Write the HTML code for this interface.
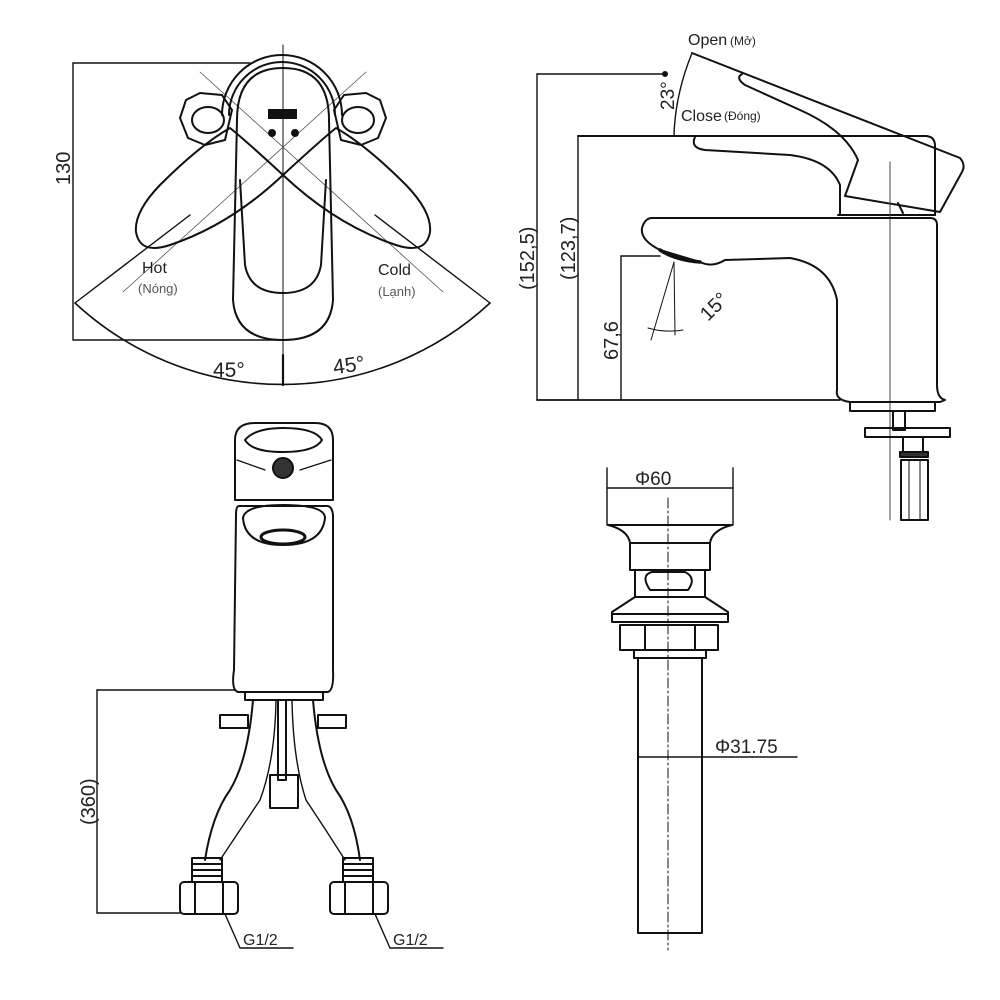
<!DOCTYPE html>
<html><head><meta charset="utf-8"><style>
html,body{margin:0;padding:0;background:#fff;}
svg{display:block;}
text{font-family:"Liberation Sans",sans-serif;fill:#222;}
</style></head><body>
<svg width="1000" height="1000" viewBox="0 0 1000 1000" xmlns="http://www.w3.org/2000/svg">
<g fill="none" stroke="#111" stroke-width="2" stroke-linejoin="round" stroke-linecap="round">
<line x1="283" y1="45" x2="283" y2="385" stroke-width="1"/>
<line x1="73" y1="63" x2="73" y2="340" stroke-width="1.4"/>
<line x1="73" y1="63" x2="250" y2="63" stroke-width="1.4"/>
<line x1="73" y1="340" x2="285" y2="340" stroke-width="1.4"/>
<path d="M75 303 A305 305 0 0 0 490 303" stroke-width="1.6"/>
<line x1="75" y1="303" x2="190" y2="215" stroke-width="1.4"/>
<line x1="490" y1="303" x2="375" y2="215" stroke-width="1.4"/>
<line x1="283" y1="355" x2="283" y2="385" stroke-width="2.2"/>
<line x1="200" y1="72" x2="443" y2="292" stroke-width="0.8" stroke="#555"/>
<line x1="366" y1="72" x2="123" y2="292" stroke-width="0.8" stroke="#555"/>
<path d="M222 115 A60 60 0 0 1 342 115"/>
<path d="M229 115 A53 53 0 0 1 335 115"/>
<path d="M186 100 L200 93 L222 95 L232 110 L225 140 L205 145 L188 138 L180 118 Z"/>
<ellipse cx="208" cy="120" rx="16" ry="13"/>
<path d="M380 100 L366 93 L344 95 L334 110 L341 140 L361 145 L378 138 L386 118 Z"/>
<ellipse cx="358" cy="120" rx="16" ry="13"/>
<path d="M230 128 Q245 140 283 175 Q230 225 170 245 Q140 255 136 232 Q134 212 160 185 Q200 145 230 128 Z"/>
<path d="M336 128 Q321 140 283 175 Q336 225 396 245 Q426 255 430 232 Q432 212 406 185 Q366 145 336 128 Z"/>
<path d="M237 120 Q237 68 283 68 Q329 68 329 120 L333 300 Q330 340 283 340 Q236 340 233 300 Z"/>
<path d="M240 180 L245 265 Q250 293 283 293 Q316 293 321 265 L326 180"/>
<rect x="268" y="109" width="29" height="10" fill="#111" stroke="none"/>
<circle cx="272" cy="133" r="3" fill="#111"/>
<circle cx="295" cy="133" r="3" fill="#111"/>

<line x1="537" y1="74" x2="537" y2="400" stroke-width="1.4"/>
<line x1="537" y1="74" x2="665" y2="74" stroke-width="1.4"/>
<line x1="578" y1="136" x2="578" y2="400" stroke-width="1.4"/>
<line x1="621" y1="256" x2="621" y2="400" stroke-width="1.4"/>
<line x1="621" y1="256" x2="660" y2="256" stroke-width="1.4"/>
<line x1="537" y1="400" x2="840" y2="400" stroke-width="1.8"/>
<path d="M692 53 Q675 95 674 136" stroke-width="1.4"/>
<circle cx="665" cy="74" r="2" fill="#111"/>
<path d="M578 136 L925 136 Q935 136 935 146 L935 215"/>
<line x1="838" y1="215" x2="935" y2="215"/>
<path d="M692 53 L960 158 Q966 165 962 172 L940 212 L845 196 L858 160 Q845 130 800 110 L745 85 Q735 78 742 74"/>
<line x1="898" y1="203" x2="903" y2="213"/>
<path d="M695 137 Q690 148 705 150 L790 155 Q830 160 840 185 L840 215"/>
<line x1="890" y1="162" x2="890" y2="520" stroke-width="1" stroke="#444"/>
<path d="M652 218 L930 218 Q937 218 937 225 L937 385 Q937 398 945 400 L940 402 L850 402 Q835 400 837 390 L837 300 Q830 265 790 258 L725 260 Q712 268 700 262 L660 250 Q640 240 642 228 Q645 218 652 218 Z"/>
<path d="M660 250 Q675 260 700 262" stroke-width="3.5"/>
<line x1="674" y1="262" x2="675" y2="335" stroke-width="1"/>
<line x1="674" y1="262" x2="651" y2="340" stroke-width="1"/>
<path d="M648 328 Q665 333 683 330" stroke-width="1"/>
<rect x="850" y="402" width="85" height="9"/>
<rect x="893" y="411" width="12" height="19"/>
<rect x="865" y="428" width="85" height="9"/>
<rect x="903" y="437" width="20" height="15"/>
<rect x="900" y="452" width="28" height="5" fill="#333"/>
<rect x="901" y="460" width="27" height="60"/>
<line x1="909" y1="460" x2="909" y2="520" stroke-width="1"/>
<line x1="920" y1="460" x2="920" y2="520" stroke-width="1"/>

<path d="M235 500 L235 440 Q235 423 255 423 L315 423 Q333 423 333 440 L333 500 Z"/>
<path d="M245 440 Q255 428 283 428 Q315 428 322 440 Q315 452 283 452 Q252 452 245 440 Z"/>
<line x1="237" y1="460" x2="265" y2="470" stroke-width="1.2"/>
<line x1="331" y1="460" x2="300" y2="470" stroke-width="1.2"/>
<circle cx="283" cy="468" r="10" fill="#333"/>
<line x1="238" y1="500" x2="331" y2="500"/>
<path d="M239 506 L327 506 Q332 506 333 515 L333 670 Q334 690 328 692 L238 692 Q231 690 234 670 L236 515 Q236 506 239 506 Z"/>
<path d="M243 518 Q245 505 283 505 Q325 505 325 518 Q322 545 283 545 Q245 545 243 518 Z"/>
<ellipse cx="283" cy="537" rx="22" ry="7" stroke-width="3"/>
<rect x="245" y="692" width="78" height="8"/>
<line x1="97" y1="690" x2="235" y2="690" stroke-width="1.4"/>
<line x1="97" y1="690" x2="97" y2="913" stroke-width="1.4"/>
<line x1="97" y1="913" x2="180" y2="913" stroke-width="1.4"/>
<rect x="220" y="715" width="28" height="13"/>
<rect x="318" y="715" width="28" height="13"/>
<path d="M253 700 Q248 760 230 790 Q212 815 205 860"/>
<path d="M313 700 Q318 760 336 790 Q354 815 360 860"/>
<path d="M276 700 Q275 760 260 800 Q240 830 220 860" stroke-width="1.4"/>
<path d="M292 700 Q293 760 306 800 Q326 830 345 860" stroke-width="1.4"/>
<rect x="278" y="700" width="8" height="80"/>
<rect x="270" y="775" width="28" height="33"/>
<rect x="192" y="858" width="30" height="24"/>
<line x1="192" y1="864" x2="222" y2="864"/><line x1="192" y1="870" x2="222" y2="870"/><line x1="192" y1="876" x2="222" y2="876"/>
<rect x="180" y="882" width="58" height="32" rx="4"/>
<line x1="195" y1="882" x2="195" y2="914"/><line x1="223" y1="882" x2="223" y2="914"/>
<rect x="343" y="858" width="30" height="24"/>
<line x1="343" y1="864" x2="373" y2="864"/><line x1="343" y1="870" x2="373" y2="870"/><line x1="343" y1="876" x2="373" y2="876"/>
<rect x="330" y="882" width="58" height="32" rx="4"/>
<line x1="345" y1="882" x2="345" y2="914"/><line x1="373" y1="882" x2="373" y2="914"/>
<polyline points="225,914 240,948 293,948" stroke-width="1.4"/>
<polyline points="375,914 390,948 443,948" stroke-width="1.4"/>

<line x1="607" y1="468" x2="607" y2="525" stroke-width="1.4"/>
<line x1="733" y1="468" x2="733" y2="525" stroke-width="1.4"/>
<line x1="607" y1="488" x2="733" y2="488" stroke-width="1.4"/>
<line x1="668" y1="498" x2="668" y2="950" stroke-width="1" stroke-dasharray="10 3 2 3"/>
<path d="M608 525 L732 525 Q712 530 710 543 L630 543 Q628 530 608 525 Z"/>
<rect x="630" y="543" width="80" height="27"/>
<rect x="635" y="570" width="70" height="27"/>
<path d="M652 572 Q640 575 650 590 L688 590 Q697 578 685 572 Z"/>
<path d="M635 597 L705 597 L728 612 L728 622 L612 622 L612 612 Z"/>
<line x1="612" y1="614" x2="728" y2="614"/>
<rect x="620" y="625" width="98" height="25"/>
<line x1="645" y1="625" x2="645" y2="650"/><line x1="695" y1="625" x2="695" y2="650"/>
<rect x="634" y="650" width="72" height="8"/>
<rect x="638" y="658" width="64" height="275"/>
<line x1="638" y1="757" x2="797" y2="757" stroke-width="1.4"/>
</g>
<text x="0" y="0" font-size="20" transform="translate(70,185) rotate(-90)">130</text>
<text x="142" y="273" font-size="16">Hot</text>
<text x="138" y="293" font-size="13" style="fill:#555">(Nóng)</text>
<text x="378" y="275" font-size="16">Cold</text>
<text x="378" y="296" font-size="13" style="fill:#555">(Lạnh)</text>
<text x="213" y="377" font-size="21">45°</text>
<text x="333" y="372" font-size="21" transform="rotate(-8 350 365)">45°</text>
<text x="688" y="45" font-size="16">Open</text><text x="730" y="45" font-size="12">(Mở)</text>
<text x="681" y="121" font-size="16">Close</text><text x="724" y="120" font-size="12">(Đóng)</text>
<text x="0" y="0" font-size="19" transform="translate(674,110) rotate(-90)">23°</text>
<text x="0" y="0" font-size="20" transform="translate(534,290) rotate(-90)">(152,5)</text>
<text x="0" y="0" font-size="20" transform="translate(575,280) rotate(-90)">(123,7)</text>
<text x="0" y="0" font-size="20" transform="translate(618,360) rotate(-90)">67,6</text>
<text x="0" y="0" font-size="20" transform="translate(708,322) rotate(-45)">15°</text>
<text x="0" y="0" font-size="20" transform="translate(95,825) rotate(-90)">(360)</text>
<text x="243" y="945" font-size="16">G1/2</text>
<text x="393" y="945" font-size="16">G1/2</text>
<text x="635" y="485" font-size="19">Φ60</text>
<text x="715" y="753" font-size="19">Φ31.75</text>
</svg>
</body></html>
